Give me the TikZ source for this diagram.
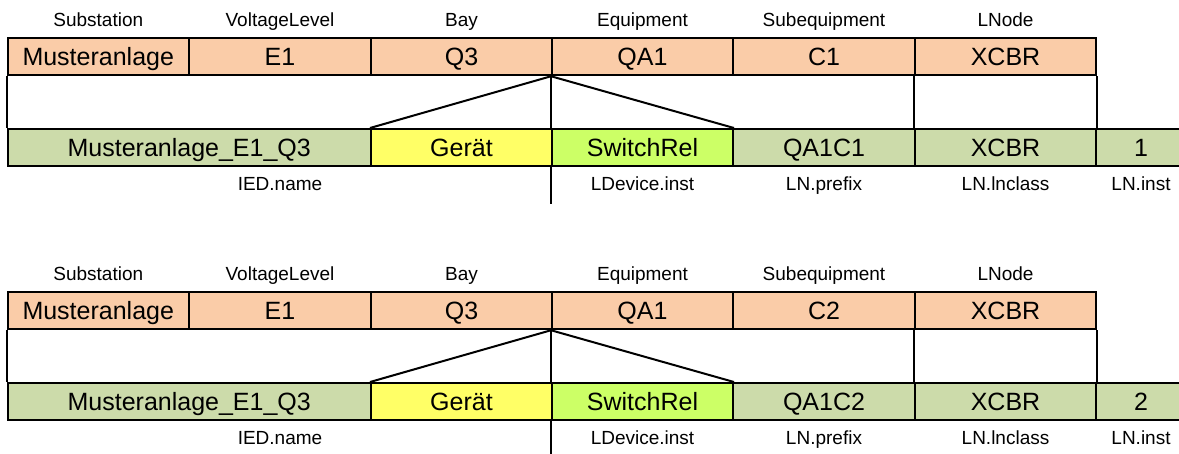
\documentclass[tikz,border=0pt]{standalone}
\usepackage{fontspec}
\setmainfont{Liberation Sans}
\usetikzlibrary{calc}
\definecolor{peach}{RGB}{250,204,168}
\definecolor{sage}{RGB}{204,219,170}
\definecolor{yel}{RGB}{255,255,102}
\definecolor{lime}{RGB}{204,255,102}
\tikzset{
  cell/.style={draw=black, line width=2pt, minimum height=37pt, inner sep=0pt,
    font=\fontsize{25}{25}\selectfont, text height=18pt, text depth=0pt},
  orangecell/.style={cell, fill=peach},
  greencell/.style={cell, fill=sage},
  yelcell/.style={cell, fill=yel},
  limecell/.style={cell, fill=lime},
  lbl/.style={font=\fontsize{19}{19}\selectfont, inner sep=0pt, text height=13.7pt, text depth=0pt},
  link/.style={draw=black, line width=2pt},
}
\newcommand\myblock[4]{%
  % header labels
  \node[lbl] (hsub#1) at (98.25,20) {Substation};
  \node[lbl] (hvl#1) at (280,20) {VoltageLevel};
  \node[lbl] (hbay#1) at (461.5,20) {Bay};
  \node[lbl] (heq#1) at (642.5,20) {Equipment};
  \node[lbl] (hseq#1) at (824,20) {Subequipment};
  \node[lbl] (hln#1) at (1005.5,20) {LNode};
  % orange row
  \node[orangecell, minimum width=181.5pt] (sub#1) at (98.25,56.75) {Musteranlage};
  \node[orangecell, minimum width=182pt] (vl#1) at (280,56.75) {E1};
  \node[orangecell, minimum width=181pt] (bay#1) at (461.5,56.75) {Q3};
  \node[orangecell, minimum width=181pt] (eq#1) at (642.5,56.75) {QA1};
  \node[orangecell, minimum width=182pt] (seq#1) at (824,56.75) {#2};
  \node[orangecell, minimum width=181pt] (lno#1) at (1005.5,56.75) {XCBR};
  % green row
  \node[greencell, minimum width=363.5pt] (ied#1) at (189.25,147.5) {Musteranlage\_E1\_Q3};
  \node[yelcell, minimum width=181pt] (ger#1) at (461.5,147.5) {Gerät};
  \node[limecell, minimum width=181pt] (sw#1) at (642.5,147.5) {SwitchRel};
  \node[greencell, minimum width=182pt] (pre#1) at (824,147.5) {#3};
  \node[greencell, minimum width=181pt] (cls#1) at (1005.5,147.5) {XCBR};
  \node[greencell, minimum width=90pt] (inst#1) at (1141,147.5) {#4};
  % bottom labels
  \node[lbl] (bied#1) at (280,183.5) {IED.name};
  \node[lbl] (bld#1) at (642.5,183.5) {LDevice.inst};
  \node[lbl] (bpre#1) at (824,183.5) {LN.prefix};
  \node[lbl] (bcls#1) at (1005.5,183.5) {LN.lnclass};
  \node[lbl] (binst#1) at (1141,183.5) {LN.inst};
  % connectors
  \draw[link] (sub#1.south west) -- (ied#1.north west);
  \draw[link] (lno#1.south west) -- (cls#1.north west);
  \draw[link] (lno#1.south east) -- (cls#1.north east);
  \draw[link] (eq#1.south west) -- (sw#1.north west);
  \draw[link] (eq#1.south west) -- (ger#1.north west);
  \draw[link] (eq#1.south west) -- (sw#1.north east);
  \coordinate (tail#1) at ($(sw#1.south west)+(0,37)$);
  \draw[link] (sw#1.south west) -- (tail#1);
}
\begin{document}
\begin{tikzpicture}[x=1pt,y=-1pt]
  \useasboundingbox (0,0) rectangle (1179,453);
  \clip (0,0) rectangle (1179,453);
  \fill[white] (0,0) rectangle (1179,453);
  \myblock{a}{C1}{QA1C1}{1}
  \begin{scope}[yshift=-254pt]
    \myblock{b}{C2}{QA1C2}{2}
  \end{scope}
\end{tikzpicture}
\end{document}
